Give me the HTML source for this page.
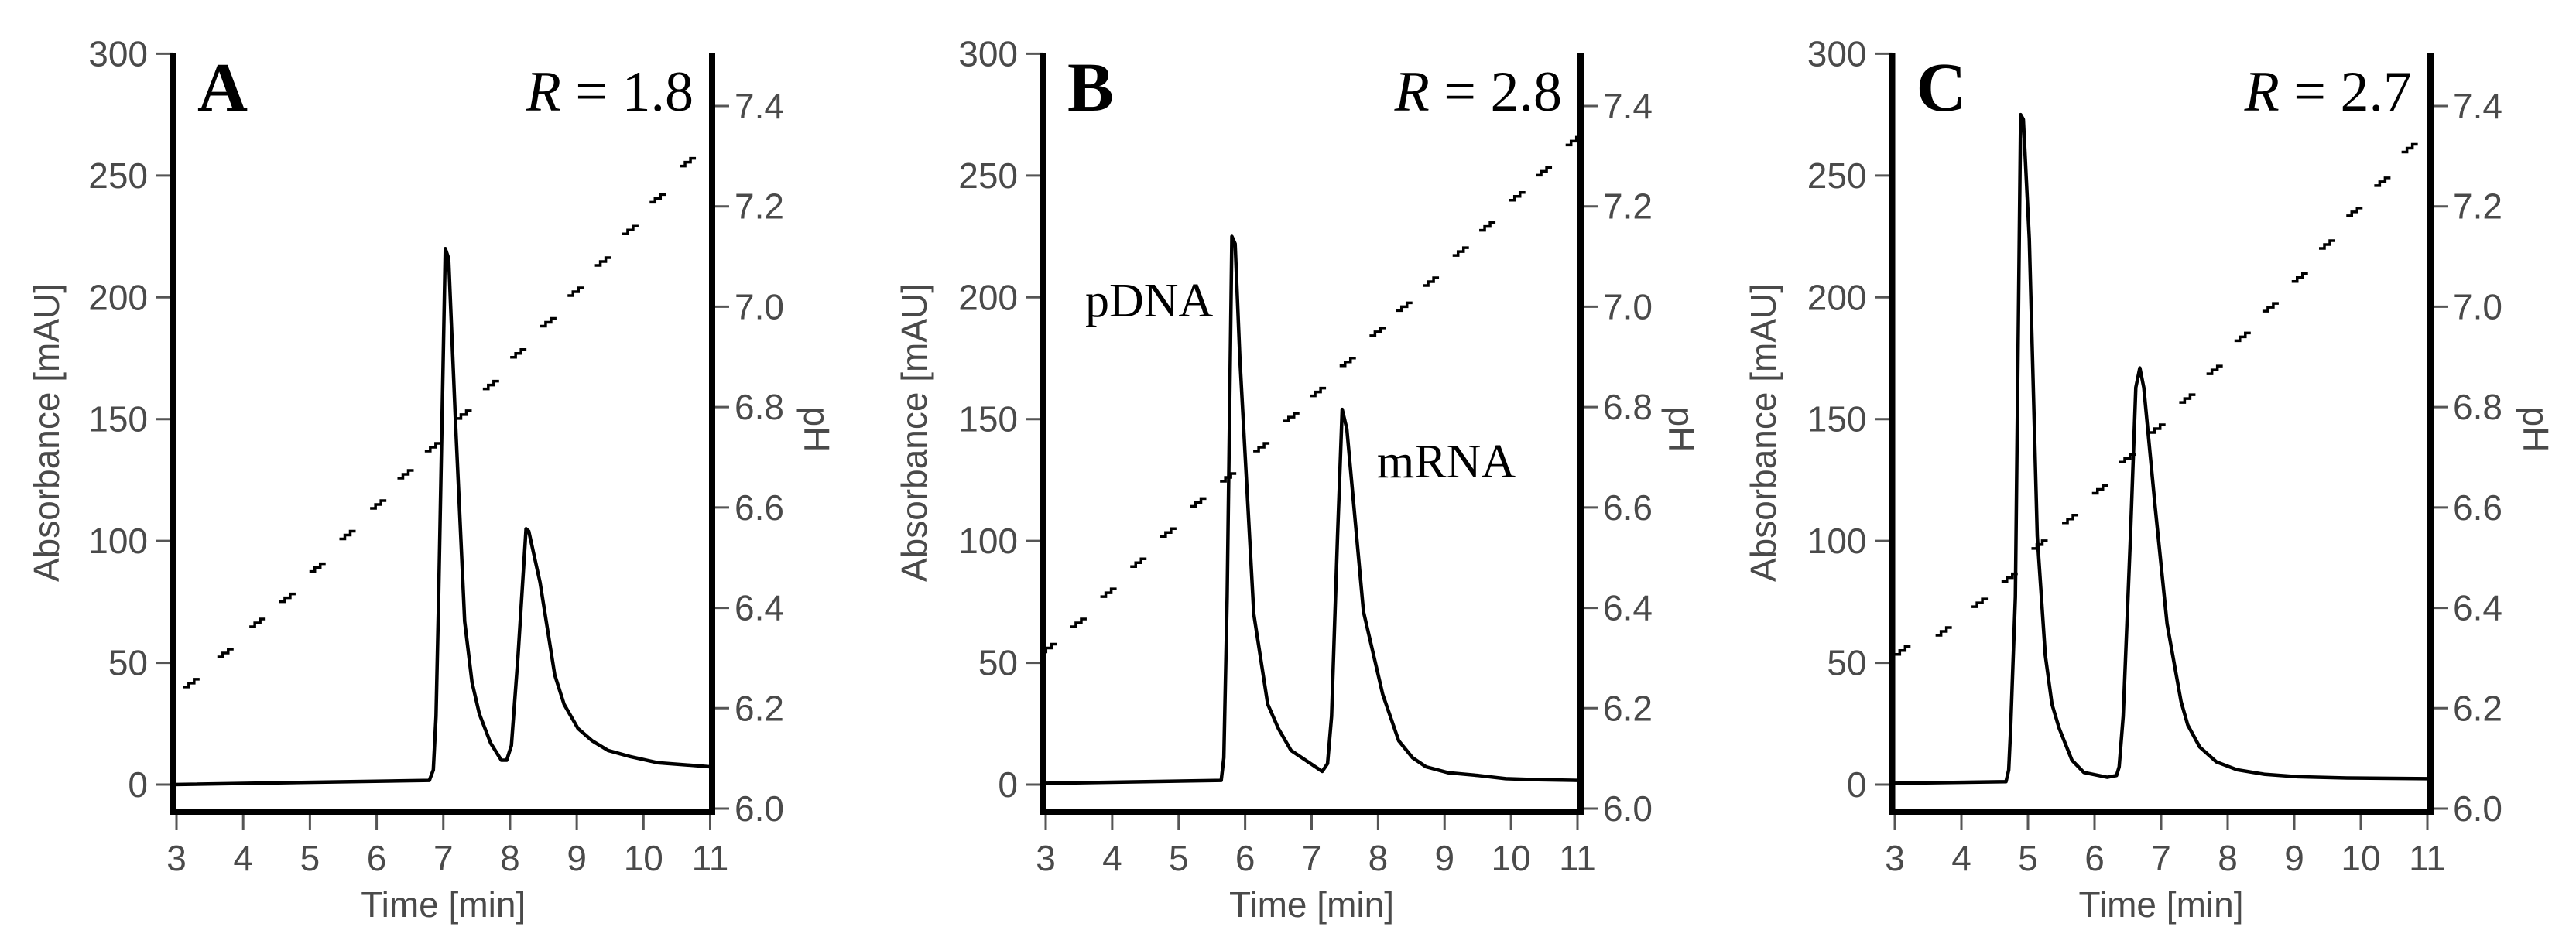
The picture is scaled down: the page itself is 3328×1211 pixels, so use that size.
<!DOCTYPE html>
<html><head><meta charset="utf-8"><style>
html,body{margin:0;padding:0;background:#fff;}
svg{display:block;}
.tk{font-family:"Liberation Sans",sans-serif;font-size:46px;fill:#4a4a4a;}
.ttl{font-family:"Liberation Sans",sans-serif;font-size:46px;fill:#4a4a4a;}
.ser{font-family:"Liberation Serif",serif;fill:#000;}
</style></head><body>
<svg id="fig" width="3328" height="1211" viewBox="0 0 3328 1211" xmlns="http://www.w3.org/2000/svg"></svg>
<script>
// ---- data ----
const xTicks = [3,4,5,6,7,8,9,10,11];
const yTicks = [0,50,100,150,200,250,300];
const phTicks = [6.0,6.2,6.4,6.6,6.8,7.0,7.2,7.4];
const phTickLabels = ["6.0","6.2","6.4","6.6","6.8","7.0","7.2","7.4"];
const panelLetters = ["A","B","C"];
const rValues = ["1.8","2.8","2.7"];

const timeA = [2.95,6.79,6.85,6.89,6.93,7.03,7.08,7.18,7.32,7.43,7.54,7.71,7.87,7.95,8.02,8.12,8.24,8.28,8.45,8.67,8.81,9.02,9.23,9.47,9.80,10.21,11.0];
const absA  = [0,1.7,6,28,77,220,216,150,67,42,29,17,10,10,16,53,105,104,83,45,33,23,18,14,11.5,9,7.3];
const timeB = [2.97,5.64,5.68,5.73,5.80,5.85,5.92,6.13,6.34,6.50,6.69,7.16,7.24,7.30,7.39,7.46,7.53,7.78,8.07,8.31,8.52,8.72,9.05,9.51,9.92,10.41,11.0];
const absB  = [0.5,1.7,11,77,225,222,175,70,33,23,14,5.4,8.6,28,102,154,146,71,37,18,11,7.3,4.9,3.7,2.4,2,1.7];
const timeC = [2.96,4.67,4.71,4.74,4.81,4.89,4.93,5.02,5.14,5.26,5.36,5.47,5.66,5.84,6.19,6.33,6.37,6.43,6.54,6.62,6.68,6.74,6.91,7.09,7.30,7.40,7.58,7.83,8.14,8.56,9.05,9.79,11.0];
const absC  = [0.5,1.2,6,23,77,275,273,224,102,53,33,23,10,5,3,3.7,7.3,28,102,163,171,163,114,66,34,24.5,15.4,9.3,6.1,4.2,3.2,2.7,2.4];

const phTimeA = [3.23,3.74,4.22,4.67,5.12,5.57,6.03,6.44,6.85,7.31,7.72,8.13,8.58,8.99,9.40,9.81,10.22,10.67];
const phValA  = [6.25,6.31,6.37,6.42,6.48,6.545,6.606,6.666,6.72,6.785,6.844,6.907,6.969,7.03,7.09,7.153,7.216,7.288];
const phTimeB = [3.05,3.5,3.95,4.4,4.85,5.3,5.75,6.25,6.7,7.1,7.55,8.0,8.4,8.8,9.25,9.65,10.1,10.5,10.95];
const phValB  = [6.32,6.37,6.43,6.49,6.55,6.61,6.66,6.72,6.78,6.83,6.89,6.95,7.00,7.05,7.11,7.16,7.22,7.27,7.33];
const phTimeC = [3.12,3.74,4.28,4.73,5.18,5.64,6.09,6.50,6.95,7.40,7.81,8.23,8.65,9.09,9.50,9.91,10.33,10.74];
const phValC  = [6.315,6.353,6.41,6.46,6.526,6.577,6.636,6.698,6.757,6.817,6.874,6.94,6.999,7.058,7.124,7.189,7.249,7.316];

// ---- layout ----
const NS = "http://www.w3.org/2000/svg";
const svg = document.getElementById("fig");
const panels = [
  {left:224, right:920, x3:228, x11:917.5, ylab:60, phlab:1055, t:timeA, a:absA, pt:phTimeA, pv:phValA},
  {left:1348, right:2042, x3:1351, x11:2038, ylab:1181, phlab:2172, t:timeB, a:absB, pt:phTimeB, pv:phValB},
  {left:2444.5, right:3140, x3:2448, x11:3136, ylab:2278, phlab:3276, t:timeC, a:absC, pt:phTimeC, pv:phValC}
];
const TOP = 68, BOT = 1049, Y0 = 1014, Y300 = 69.4, PH6 = 1045, PH74 = 137;
function mk(tag, attrs, parent){ const e=document.createElementNS(NS,tag); for(const k in attrs) e.setAttribute(k,attrs[k]); (parent||svg).appendChild(e); return e; }
const yS = v => Y0 + (Y300 - Y0) * v / 300;
const phS = v => PH6 + (PH74 - PH6) * (v - 6) / 1.4;

panels.forEach((p, i) => {
  const xS = t => p.x3 + (p.x11 - p.x3) * (t - 3) / 8;
  const g = mk("g", {});
  
  

  yTicks.forEach(v => {
    const l = mk("line", {x1:p.left-22, x2:p.left, y1:yS(v), y2:yS(v), stroke:"#555", "stroke-width":3}, g);
    
    
    const tx = mk("text", {x:p.left-33, y:yS(v)+16, "text-anchor":"end", class:"tk"}, g);
    tx.textContent = v;
    
    
  });
  phTicks.forEach((v, k) => {
    const l = mk("line", {x1:p.right, x2:p.right+22, y1:phS(v), y2:phS(v), stroke:"#555", "stroke-width":3}, g);
    
    
    const tx = mk("text", {x:p.right+29, y:phS(v)+16, class:"tk"}, g);
    tx.textContent = phTickLabels[k];
    
    
  });
  xTicks.forEach(v => {
    const l = mk("line", {x1:xS(v), x2:xS(v), y1:BOT, y2:BOT+24, stroke:"#555", "stroke-width":3}, g);
    
    
    const tx = mk("text", {x:xS(v), y:1125, "text-anchor":"middle", class:"tk"}, g);
    tx.textContent = v;
    
    
  });
  const ax = mk("path", {d:`M${p.left},${TOP} V${BOT} H${p.right} V${TOP}`, fill:"none", stroke:"#000", "stroke-width":8}, g);
  
  
  const xt = mk("text", {x:(p.x3+p.x11)/2, y:1185, "text-anchor":"middle", class:"ttl"}, g);
  xt.textContent = "Time [min]";
  
  
  const yt = mk("text", {x:0, y:0, "text-anchor":"middle", class:"ttl", transform:`translate(${p.ylab+16},559) rotate(-90)`}, g);
  yt.textContent = "Absorbance [mAU]";
  
  
  const pt = mk("text", {x:0, y:0, "text-anchor":"middle", class:"ttl", transform:`translate(${p.phlab-16},555) rotate(90)`}, g);
  pt.textContent = "pH";
  
  
  const lt = mk("text", {x:p.left+31, y:143, class:"ser", "font-size":90, "font-weight":"bold"}, g);
  lt.textContent = panelLetters[i];
  
  
  const rt = mk("text", {x:p.right-24, y:143, "text-anchor":"end", class:"ser", "font-size":74}, g);
  rt.innerHTML = '<tspan font-style="italic">R</tspan> = ' + rValues[i];
  
  
  const d = p.t.map((t, k) => (k ? "L" : "M") + xS(t).toFixed(1) + "," + yS(p.a[k]).toFixed(1)).join(" ");
  const tr = mk("path", {d:d, fill:"none", stroke:"#000", "stroke-width":4.5, "stroke-linejoin":"round"}, g);
  
  
  p.pt.forEach((t, k) => {
    const cx = xS(t), cy = phS(p.pv[k]);
    const s = mk("path", {d:`M${cx-11},${cy+5} h7 v-5 h7 v-5 h7`, fill:"none", stroke:"#000", "stroke-width":3.5}, g);
    
    
  });
});
const pd = mk("text", {x:1402, y:409, class:"ser", "font-size":62});
pd.textContent = "pDNA";


const mr = mk("text", {x:1779, y:617, class:"ser", "font-size":62});
mr.textContent = "mRNA";


</script>
</body></html>
